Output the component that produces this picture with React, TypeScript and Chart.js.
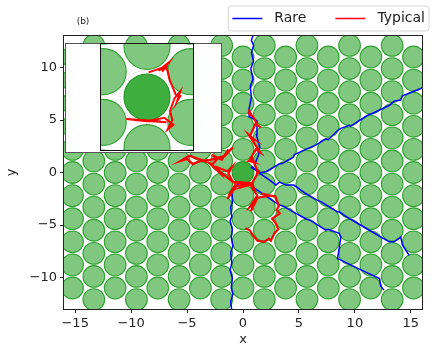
import React, { useEffect, useRef } from 'react';
import { Chart, registerables } from 'chart.js';

Chart.register(...registerables);

// ---- axes ----
const X_MIN = -16;
const X_MAX = 16;
const Y_MIN = -13;
const Y_MAX = 13;
const xTickValues = [-15, -10, -5, 0, 5, 10, 15];
const yTickValues = [-10, -5, 0, 5, 10];

// ---- disk lattice (columns and rows of disk centres) ----
const evenColumnX = [-15.24, -11.43, -7.62, -3.81, 0, 3.81, 7.62, 11.43, 15.24];
const oddColumnX = [-13.335, -9.525, -5.715, -1.905, 1.905, 5.715, 9.525, 13.335];
const evenRowY = [-11, -8.8, -6.6, -4.4, -2.2, 0, 2.2, 4.4, 6.6, 8.8, 11];
const oddRowY = [-12.1, -9.9, -7.7, -5.5, -3.3, -1.1, 1.1, 3.3, 5.5, 7.7, 9.9, 12.1];
const diskRadius = 1;
const centerDiskX = [0];
const centerDiskY = [0];

// ---- rare trajectories ----
const rareUpX = [1.1, 1.4, 1.5, 1.2, 1.25, 0.6, 0.55, 0.75, 0.65, 0.9, 0.7, 0.95, 0.75, 0.95, 0.75, 0.95];
const rareUpY = [0.9, 1.7, 2.4, 3.6, 4.9, 5.3, 6.1, 7.2, 8.2, 8.9, 9.9, 10.6, 11.4, 12.1, 12.6, 13.2];

const rareDownX = [-0.2, -1.0, -0.95, -1.1, -1.0, -1.15, -0.95, -1.05, -0.9, -1.1, -1.0, -1.15, -0.95, -1.05, -0.9, -1.1, -1.0];
const rareDownY = [-0.9, -1.7, -2.9, -3.3, -4.2, -4.6, -5.4, -6.2, -7.0, -7.6, -8.6, -9.3, -10.1, -11.0, -11.6, -12.3, -13.2];

const rareUpperRightX = [0.7, 1.6, 2.1, 3.2, 3.5, 4.5, 4.6, 5.6, 6.5, 7.4, 7.6, 8.45, 8.75, 9.5, 9.6, 11.2, 11.5, 13.1, 13.5, 14.1, 14.25, 15.9, 16.3];
const rareUpperRightY = [0.5, -0.05, 0.1, 0.8, 0.85, 1.45, 1.7, 2.2, 2.6, 3.2, 3.1, 4.0, 4.2, 4.5, 4.4, 5.5, 5.6, 6.4, 6.8, 6.9, 7.3, 8.0, 8.2];

const rareRightX = [0.8, 1.3, 2.35, 2.95, 3.24, 3.84, 4.55, 5.6, 6.66, 7.0, 8.45, 8.6, 9.5, 9.7, 11.3, 13.06, 13.5, 14.1, 14.25, 14.85];
const rareRightY = [0.6, 0.06, -0.7, -1.2, -0.92, -1.2, -1.2, -2.0, -2.65, -2.8, -3.76, -3.75, -4.4, -4.5, -5.5, -6.6, -6.6, -6.15, -6.9, -7.9];

const rareLowerRightX = [0.5, 0.9, 2.0, 3.24, 3.6, 4.4, 5.6, 6.1, 7.4, 7.6, 8.6, 8.75, 8.45, 8.75, 10.4, 12.2, 12.3, 12.6];
const rareLowerRightY = [-1.0, -1.4, -2.2, -3.1, -3.2, -3.7, -4.4, -4.6, -5.5, -5.4, -5.8, -6.15, -8.2, -8.35, -9.2, -10.1, -10.8, -11.2];

// ---- typical trajectory ----
const typicalX = [0.5, 0.8, 0.45, 0.9, 1.3, 1.6, 1.1, 0.6, 0.95, 0.5, 1.3, 1.55, 1.15, 0.6, 0.95, 0.5, 0.85, 1.3, 1.2, 1.45, 1.3, 0.8, 0.95, 0.7, -0.8, 0.7, -0.9,
  -1.3, -1.0, -1.35, -2.3, -2.0, -2.8, -2.3, -2.8, -1.9, -1.3, -1.5, -0.9, -1.6, -2.9, -3.8, -4.5, -5.0, -5.6, -4.8, -4.0, -3.0, -2.3, -1.5, -0.65,
  -1.3, -1.0, -1.4, -0.6, 0.3, -0.2, 0.65, 1.27, 0.6, 1.0, 0.7, 1.3, 2.5, 1.6, 2.9, 3.2, 3.0, 3.3, 2.6, 2.9, 3.15, 2.8, 2.5, 2.3, 1.9, 1.3, 0.9, 0.6, 0.2];
const typicalY = [6.0, 5.4, 5.7, 5.3, 4.5, 4.3, 4.6, 3.4, 3.2, 3.6, 2.3, 1.9, 2.2, 1.2, 1.0, 1.1, 1.35, 0.1, -0.25, 0.2, -0.1, -1.0, -1.45, -1.1, -0.95, -1.0, -0.9,
  -0.1, 0.5, 0.1, 0.5, -0.1, 0.7, 1.3, 1.7, 1.2, 2.2, 1.8, 2.4, 1.6, 1.2, 1.1, 0.8, 1.3, 1.1, 1.6, 1.3, 0.9, 0.3, -0.4, -1.1,
  -2.2, -1.8, -2.5, -1.3, -1.1, -1.4, -1.15, -2.2, -3.3, -3.0, -3.7, -2.4, -2.2, -2.0, -2.3, -3.2, -3.6, -3.9, -4.4, -4.8, -5.4, -5.8, -6.5, -6.3, -6.6, -6.5, -6.0, -5.5, -5.3];

// ---- inset (zoom on the central disk) ----
const INSET_X_MIN = -2;
const INSET_X_MAX = 2;
const INSET_Y_MIN = -2.3;
const INSET_Y_MAX = 2.3;
const insetTypicalX = [0.07, 0.9, 0.5, 0.95, 0.65, 0.85, 1.0, 1.25, 1.45, 1.3, 1.45, 1.2, 1.0, 1.1, 0.9, 1.15, 0.75, 0.0, -0.9, 0.6, -0.6, 0.85];
const insetTypicalY = [1.07, 1.35, 1.15, 1.5, 1.1, 1.3, 0.7, 0.1, 0.05, -0.2, 0.25, -0.05, -0.6, -1.0, -1.4, -1.2, -0.9, -1.05, -0.95, -1.05, -1.0, -1.1];
const exclusionRadius = 1.17;

// ---- text ----
const legendLabels = ['Rare', 'Typical'];
const panelLabel = '(b)';
const xTitle = 'x';
const yTitle = 'y';

// ---- styles ----
const RARE_COLOR = '#0000ff';
const TYPICAL_COLOR = '#ff0000';
const DISK_FILL = 'rgb(128,200,128)';
const DISK_EDGE = 'rgb(48,162,48)';
const CENTER_FILL = 'rgb(62,174,62)';
const CENTER_EDGE = 'rgb(40,148,40)';
const FONT = '"DejaVu Sans", sans-serif';
const TEXT_COLOR = '#222';

const toPoints = (xs: number[], ys: number[]) => xs.map((x, i) => ({ x, y: ys[i] }));

function latticePoints() {
  const pts: { x: number; y: number }[] = [];
  for (const x of evenColumnX) for (const y of evenRowY) if (!(x === 0 && y === 0)) pts.push({ x, y });
  for (const x of oddColumnX) for (const y of oddRowY) pts.push({ x, y });
  return pts;
}

function pxRadius(chart: any) {
  const sx = chart.scales.x;
  const sy = chart.scales.y;
  const rx = Math.abs(sx.getPixelForValue(diskRadius) - sx.getPixelForValue(0));
  const ry = Math.abs(sy.getPixelForValue(diskRadius) - sy.getPixelForValue(0));
  return (rx + ry) / 2;
}

const fmtTick = (v: number) => (v < 0 ? '\u2212' + Math.abs(v) : String(v));

function diskDatasets() {
  return [
    {
      label: 'disks',
      data: latticePoints(),
      showLine: false,
      pointRadius: (c: any) => pxRadius(c.chart),
      pointBackgroundColor: DISK_FILL,
      pointBorderColor: DISK_EDGE,
      pointBorderWidth: 1.1,
      clip: 0,
      order: 10,
    },
    {
      label: 'center',
      data: toPoints(centerDiskX, centerDiskY),
      showLine: false,
      pointRadius: (c: any) => pxRadius(c.chart),
      pointBackgroundColor: CENTER_FILL,
      pointBorderColor: CENTER_EDGE,
      pointBorderWidth: 1.1,
      clip: 0,
      order: 9,
    },
  ];
}

function lineDataset(label: string, xs: number[], ys: number[], color: string, order: number, width = 1.5) {
  return {
    label,
    data: toPoints(xs, ys),
    showLine: true,
    pointRadius: 0,
    borderColor: color,
    backgroundColor: color,
    borderWidth: width,
    tension: 0,
    fill: false,
    clip: 0,
    order,
  };
}

const mainDecor = {
  id: 'mainDecor',
  afterDatasetsDraw(chart: any) {
    const { ctx, chartArea: a } = chart;
    ctx.save();
    ctx.strokeStyle = '#222';
    ctx.lineWidth = 1;
    ctx.strokeRect(Math.round(a.left) - 0.5, Math.round(a.top) - 0.5, Math.round(a.right - a.left) + 1, Math.round(a.bottom - a.top) + 1);
    ctx.restore();
  },
  afterDraw(chart: any) {
    const { ctx, chartArea: a } = chart;
    ctx.save();
    const fs = 14;
    ctx.font = `${fs}px ${FONT}`;
    const widths = legendLabels.map((t) => ctx.measureText(t).width);
    const handle = 30, textPad = 12, colSpace = 29, padL = 4, padR = 4;
    const total = padL + padR + widths.reduce((s, w) => s + w + handle + textPad, 0) + colSpace * (legendLabels.length - 1);
    const right = a.right + 7;
    const left = right - total;
    const top = 6, h = 25, r = 3;
    ctx.beginPath();
    ctx.moveTo(left + r, top);
    ctx.lineTo(right - r, top);
    ctx.arcTo(right, top, right, top + r, r);
    ctx.lineTo(right, top + h - r);
    ctx.arcTo(right, top + h, right - r, top + h, r);
    ctx.lineTo(left + r, top + h);
    ctx.arcTo(left, top + h, left, top + h - r, r);
    ctx.lineTo(left, top + r);
    ctx.arcTo(left, top, left + r, top, r);
    ctx.closePath();
    ctx.fillStyle = 'rgba(255,255,255,0.85)';
    ctx.fill();
    ctx.strokeStyle = '#d6d6d6';
    ctx.lineWidth = 1;
    ctx.stroke();
    const colors = [RARE_COLOR, TYPICAL_COLOR];
    let x = left + padL;
    const cy = top + h / 2;
    legendLabels.forEach((t, i) => {
      ctx.strokeStyle = colors[i];
      ctx.lineWidth = 1.5;
      ctx.beginPath();
      ctx.moveTo(x, cy);
      ctx.lineTo(x + handle, cy);
      ctx.stroke();
      ctx.fillStyle = TEXT_COLOR;
      ctx.textAlign = 'left';
      ctx.textBaseline = 'middle';
      ctx.fillText(t, x + handle + textPad, cy);
      x += handle + textPad + widths[i] + colSpace;
    });
    ctx.font = `9px ${FONT}`;
    ctx.fillStyle = TEXT_COLOR;
    ctx.textAlign = 'center';
    ctx.textBaseline = 'middle';
    ctx.fillText(panelLabel, 83, 22);
    ctx.restore();
  },
};

const insetDecor = {
  id: 'insetDecor',
  beforeDraw(chart: any) {
    const { ctx, width, height } = chart;
    ctx.save();
    ctx.fillStyle = '#ffffff';
    ctx.fillRect(0, 0, width, height);
    ctx.strokeStyle = '#555';
    ctx.lineWidth = 1;
    ctx.strokeRect(0.5, 0.5, width - 1, height - 1);
    ctx.restore();
  },
  afterDatasetsDraw(chart: any) {
    const { ctx, chartArea: a, scales } = chart;
    ctx.save();
    const cx = scales.x.getPixelForValue(0);
    const cy = scales.y.getPixelForValue(0);
    const rr = Math.abs(scales.x.getPixelForValue(exclusionRadius) - cx);
    ctx.strokeStyle = 'rgba(220,130,220,0.7)';
    ctx.setLineDash([1, 2]);
    ctx.lineWidth = 0.8;
    ctx.beginPath();
    ctx.arc(cx, cy, rr, 0, Math.PI * 2);
    ctx.stroke();
    ctx.setLineDash([]);
    ctx.strokeStyle = '#111';
    ctx.lineWidth = 1;
    ctx.strokeRect(Math.round(a.left) - 0.5, Math.round(a.top) - 0.5, Math.round(a.right - a.left) + 1, Math.round(a.bottom - a.top) + 1);
    ctx.restore();
  },
};

export default function App() {
  const mainRef = useRef<HTMLCanvasElement>(null);
  const insetRef = useRef<HTMLCanvasElement>(null);

  useEffect(() => {
    const tickFont = { family: FONT, size: 13 };
    const main = new Chart(mainRef.current as HTMLCanvasElement, {
      type: 'scatter',
      data: {
        datasets: [
          ...diskDatasets(),
          lineDataset('Rare', rareUpX, rareUpY, RARE_COLOR, 3),
          lineDataset('Rare', rareDownX, rareDownY, RARE_COLOR, 3),
          lineDataset('Rare', rareUpperRightX, rareUpperRightY, RARE_COLOR, 3),
          lineDataset('Rare', rareRightX, rareRightY, RARE_COLOR, 3),
          lineDataset('Rare', rareLowerRightX, rareLowerRightY, RARE_COLOR, 3),
          lineDataset('Typical', typicalX, typicalY, TYPICAL_COLOR, 1, 2.2),
        ] as any,
      },
      options: {
        animation: false,
        responsive: false,
        devicePixelRatio: 1,
        events: [],
        layout: { padding: { top: 36, right: 14, left: 0, bottom: 0 } },
        plugins: { legend: { display: false }, tooltip: { enabled: false } },
        scales: {
          x: {
            type: 'linear',
            min: X_MIN,
            max: X_MAX,
            afterBuildTicks: (s: any) => {
              s.ticks = xTickValues.map((v) => ({ value: v }));
            },
            afterFit: (s: any) => {
              s.height = 45;
            },
            ticks: { callback: (v: any) => fmtTick(Number(v)), font: tickFont, color: TEXT_COLOR, padding: 3, maxRotation: 0, autoSkip: false },
            grid: { drawOnChartArea: false, drawTicks: true, tickLength: 4, color: '#222' },
            border: { display: false },
            title: { display: true, text: xTitle, font: tickFont, color: TEXT_COLOR, padding: { top: 0, bottom: 7 } },
          },
          y: {
            type: 'linear',
            min: Y_MIN,
            max: Y_MAX,
            afterBuildTicks: (s: any) => {
              s.ticks = yTickValues.map((v) => ({ value: v }));
            },
            afterFit: (s: any) => {
              s.width = 64;
            },
            ticks: { callback: (v: any) => fmtTick(Number(v)), font: tickFont, color: TEXT_COLOR, padding: 3, autoSkip: false },
            grid: { drawOnChartArea: false, drawTicks: true, tickLength: 4, color: '#222' },
            border: { display: false },
            title: { display: true, text: yTitle, font: tickFont, color: TEXT_COLOR, padding: { top: 4, bottom: 0 } },
          },
        },
      } as any,
      plugins: [mainDecor],
    });

    const inset = new Chart(insetRef.current as HTMLCanvasElement, {
      type: 'scatter',
      data: {
        datasets: [
          ...diskDatasets(),
          lineDataset('Typical', insetTypicalX, insetTypicalY, TYPICAL_COLOR, 1, 2),
        ] as any,
      },
      options: {
        animation: false,
        responsive: false,
        devicePixelRatio: 1,
        events: [],
        layout: { padding: { top: 1, right: 29, left: 36, bottom: 3 } },
        plugins: { legend: { display: false }, tooltip: { enabled: false } },
        scales: {
          x: { type: 'linear', min: INSET_X_MIN, max: INSET_X_MAX, display: false },
          y: { type: 'linear', min: INSET_Y_MIN, max: INSET_Y_MAX, display: false },
        },
      } as any,
      plugins: [insetDecor],
    });

    return () => {
      main.destroy();
      inset.destroy();
    };
  }, []);

  return (
    <div style={{ position: 'fixed', left: 0, top: 0, width: 436, height: 354, background: '#fff' }}>
      <canvas ref={mainRef} width={436} height={354} style={{ position: 'absolute', left: 0, top: 0, width: 436, height: 354 }} />
      <canvas ref={insetRef} width={157} height={110} style={{ position: 'absolute', left: 65, top: 43, width: 157, height: 110 }} />
    </div>
  );
}
